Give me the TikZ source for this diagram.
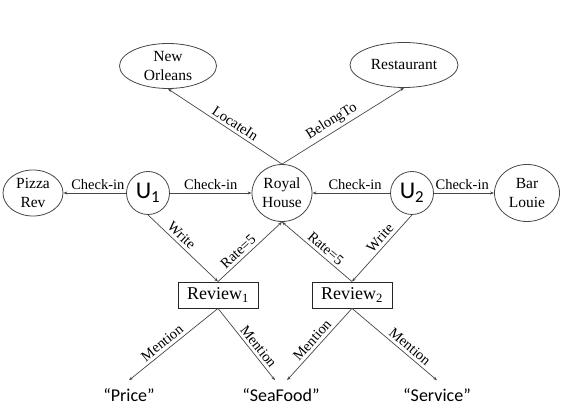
\documentclass[tikz,border=0pt]{standalone}
\usepackage{fontspec}
\usepackage{xcolor}
\setmainfont{Liberation Serif}
\newfontfamily\calfont{Carlito}
\usetikzlibrary{shapes.geometric,arrows.meta}

\definecolor{linegray}{RGB}{70,70,70}

\tikzset{
    place/.style={ellipse, draw=linegray, line width=.8pt, inner sep=0pt, align=center,
        font=\fontsize{15.5}{19}\selectfont},
    user/.style={circle, draw=linegray, line width=.8pt, minimum size=43pt, inner sep=0pt,
        font=\calfont\fontsize{24}{24}\selectfont},
    review/.style={rectangle, draw=black!85, line width=.8pt, minimum width=80pt,
        minimum height=26pt, inner sep=0pt, font=\fontsize{18}{18}\selectfont},
    word/.style={inner xsep=0pt, inner ysep=8pt, font=\calfont\fontsize{18}{18}\selectfont},
    rel/.style={draw=linegray, line width=.7pt, -{Stealth[length=4pt,width=3pt]}},
    lbl/.style={sloped, above, inner sep=3pt, font=\fontsize{14.5}{14.5}\selectfont}
}

\begin{document}
\begin{tikzpicture}[x=1pt, y=-1pt]
\useasboundingbox (0,0) rectangle (562,419);

    %places
    \node[place, minimum width=97pt, minimum height=45pt] (orleans) at (168,66) {New\\Orleans};
    \node[place, minimum width=108pt, minimum height=45pt] (restaurant) at (404,65) {Restaurant};
    \node[place, minimum width=60pt, minimum height=46pt] (pizza) at (33,193) {Pizza\\Rev};
    \node[place, minimum width=60pt, minimum height=57pt] (royal) at (282,193) {Royal\\House};
    \node[place, minimum width=65pt, minimum height=57pt] (bar) at (527,193) {Bar\\Louie};

    %users
    \node[user] (u1) at (148,193) {U\textsubscript{1}};
    \node[user] (u2) at (412,193) {U\textsubscript{2}};

    %reviews
    \node[review] (rev1) at (218,295) {Review\textsubscript{1}};
    \node[review] (rev2) at (352,295) {Review\textsubscript{2}};

    %words
    \node[word] (price) at (129,395) {“Price”};
    \node[word] (seafood) at (281,395) {“SeaFood”};
    \node[word] (service) at (437,395) {“Service”};

    %relations
    \draw[rel] (royal.north) -- node[lbl, pos=.45] {LocateIn} (orleans.south);
    \draw[rel] (royal.north) -- node[lbl, pos=.45] {BelongTo} (restaurant.south);
    \draw[rel] (u1.west) -- node[lbl, pos=.45] {Check-in} (pizza.east);
    \draw[rel] (u1.east) -- node[lbl, pos=.5] {Check-in} (royal.west);
    \draw[rel] (u2.west) -- node[lbl, pos=.45] {Check-in} (royal.east);
    \draw[rel] (u2.east) -- node[lbl, pos=.47] {Check-in} (bar.west);
    \draw[rel] (u1.south) -- node[lbl, pos=.4] {Write} (rev1.north);
    \draw[rel] (u2.south) -- node[lbl, pos=.43] {Write} (rev2.north);
    \draw[rel] (rev1.north) -- node[lbl, pos=.4] {Rate=5} (royal.south);
    \draw[rel] (rev2.north) -- node[lbl, pos=.45] {Rate=5} (royal.south);
    \draw[rel] (rev1.south) -- node[lbl, pos=.57] {Mention} (price.north);
    \draw[rel] (rev1.south) -- node[lbl, pos=.6] {Mention} ([xshift=-6pt]seafood.north);
    \draw[rel] (rev2.south) -- node[lbl, pos=.52] {Mention} ([xshift=6pt]seafood.north);
    \draw[rel] (rev2.south) -- node[lbl, pos=.62] {Mention} (service.north);

\end{tikzpicture}
\end{document}
